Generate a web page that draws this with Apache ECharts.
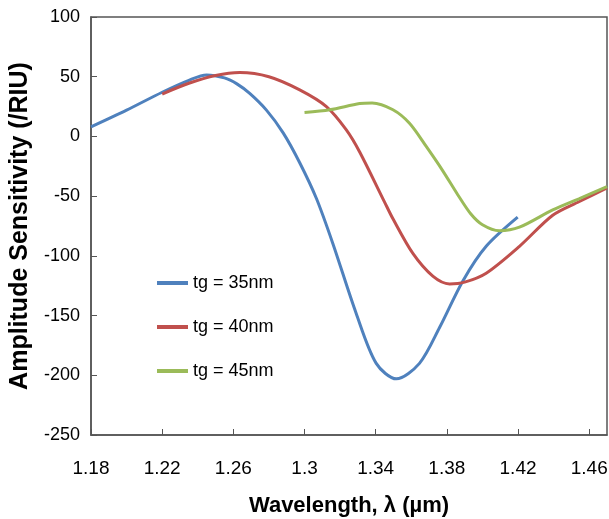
<!DOCTYPE html>
<html>
<head>
<meta charset="UTF-8">
<title>Amplitude Sensitivity</title>
<script src="https://cdn.jsdelivr.net/npm/echarts@6/dist/echarts.min.js"></script>
<style>
	html, body { margin: 0; padding: 0; background: #fff; }
	#chart { width: 609px; height: 519px; }
</style>
</head>
<body>
<div id="chart"></div>
<script type="text/javascript">
// wavelength (um) / amplitude sensitivity (/RIU)
var tg35 = [
	[1.18, 8], [1.20, 22], [1.22, 37], [1.235, 47], [1.245, 51.5], [1.255, 49],
	[1.262, 44], [1.2692, 36], [1.2786, 22], [1.288, 3], [1.2973, -22], [1.3067, -52],
	[1.316, -90], [1.329, -148], [1.3403, -190], [1.3516, -203], [1.3646, -190],
	[1.3759, -160], [1.389, -121], [1.4021, -92], [1.4198, -67.6]
];
var tg40 = [
	[1.22, 35.5], [1.235, 44.5], [1.25, 51], [1.2636, 53.5], [1.28, 50], [1.2973, 39],
	[1.3123, 25], [1.3235, 5.5], [1.331, -13], [1.345, -55], [1.3497, -69], [1.3609, -98],
	[1.3721, -117], [1.3815, -123.5], [1.39, -122], [1.4021, -114.5], [1.4208, -92],
	[1.4395, -66], [1.4545, -54.5], [1.47, -43]
];
var tg45 = [
	[1.30, 20], [1.3142, 22.3], [1.331, 27.5], [1.338, 28], [1.3497, 22.3], [1.359, 11],
	[1.3684, -8.4], [1.3778, -29], [1.3862, -49], [1.3935, -65], [1.40, -74], [1.4095, -79],
	[1.4208, -76], [1.4395, -61.5], [1.4545, -52], [1.47, -42]
];
var seriesNames = ['tg = 35nm', 'tg = 40nm', 'tg = 45nm'];
var xTicks = [1.18, 1.22, 1.26, 1.30, 1.34, 1.38, 1.42, 1.46];

var colors = ['#4f81bd', '#c0504d', '#9bbb59'];
var font = 'Liberation Sans, Arial, sans-serif';

var chart = echarts.init(document.getElementById('chart'));
chart.setOption({
	animation: false,
	color: colors,
	textStyle: { fontFamily: font },
	grid: {
		left: 91, top: 17, right: 2, bottom: 84,
		show: true, borderColor: '#555', borderWidth: 1.5,
		outerBoundsMode: 'none'
	},
	legend: {
		orient: 'vertical',
		left: 152,
		top: 269,
		itemGap: 26,
		itemWidth: 31,
		itemHeight: 4,
		icon: 'rect',
		textStyle: { fontSize: 18, color: '#000', fontFamily: font },
		data: seriesNames
	},
	xAxis: {
		type: 'value',
		min: 1.18,
		max: 1.47,
		name: 'Wavelength, λ (µm)',
		nameLocation: 'middle',
		nameGap: 60,
		nameTextStyle: { fontSize: 22, fontWeight: 'bold', color: '#000', fontFamily: font },
		axisLine: { onZero: false, lineStyle: { color: '#555', width: 1.5 } },
		axisTick: { inside: true, length: 6, customValues: xTicks, lineStyle: { color: '#555' } },
		axisLabel: { customValues: xTicks, margin: 24, fontSize: 19, color: '#000' },
		splitLine: { show: false }
	},
	yAxis: {
		type: 'value',
		min: -250,
		max: 100,
		interval: 50,
		name: 'Amplitude Sensitivity (/RIU)',
		nameLocation: 'middle',
		nameRotate: 90,
		nameGap: 57,
		nameTextStyle: { fontSize: 25, fontWeight: 'bold', color: '#000', fontFamily: font },
		axisLine: { onZero: false, lineStyle: { color: '#555', width: 1.5 } },
		axisTick: { inside: true, length: 6, lineStyle: { color: '#555' } },
		axisLabel: { margin: 11, fontSize: 18, color: '#000' },
		splitLine: { show: false }
	},
	series: [tg35, tg40, tg45].map(function (d, i) {
		return {
			name: seriesNames[i],
			type: 'line',
			data: d,
			smooth: 0.3,
			showSymbol: false,
			lineStyle: { width: 3, color: colors[i] }
		};
	})
});
</script>
</body>
</html>
